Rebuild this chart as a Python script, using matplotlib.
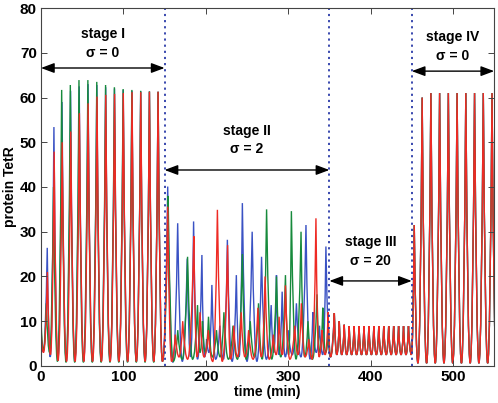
import numpy as np
import matplotlib
matplotlib.use("Agg")
import matplotlib.pyplot as plt
from matplotlib.path import Path
from matplotlib.patches import PathPatch

plt.rcParams['font.family'] = ['Liberation Sans', 'DejaVu Sans']

# ---------------- data ----------------
# Stage I (sigma = 0)
blue_I_peak_t = [7.6, 15.7, 25.5, 35.9, 46.4, 57.1, 67.8, 78.5, 89.2, 99.8, 110.4, 121.0, 131.6, 142.1]
blue_I_peak_v = [26.4, 53.4, 59.0, 61.5, 62.5, 63.0, 62.8, 62.3, 62.0, 61.7, 61.5, 61.4, 61.3, 61.3]
blue_I_trough_t = [0.0, 2.8, 11.2, 20.4, 30.7, 41.1, 51.7, 62.4, 73.1, 83.8, 94.5, 105.1, 115.7, 126.3, 136.8]
blue_I_trough_v = [6.0, 3.2, 2.0, 1.2, 1.0, 1.0, 1.0, 1.0, 1.0, 1.0, 1.0, 1.0, 1.0, 1.0, 1.0]

green_I_peak_t = [6.5, 15.2, 25.1, 35.6, 46.1, 56.9, 67.7, 78.4, 89.1, 99.7, 110.3, 121.0, 131.6, 142.1]
green_I_peak_v = [14.0, 40.0, 61.7, 62.8, 63.9, 63.9, 63.5, 62.8, 62.3, 61.9, 61.7, 61.5, 61.4, 61.3]
green_I_trough_t = [0.0, 3.0, 10.5, 20.0, 30.4, 40.9, 51.5, 62.3, 73.0, 83.7, 94.4, 105.0, 115.7, 126.3, 136.8]
green_I_trough_v = [10.5, 3.5, 3.0, 1.0, 0.8, 0.8, 0.8, 0.8, 0.8, 0.8, 0.8, 0.8, 0.8, 0.8, 0.8]

red_I_peak_t = [7.8, 16.0, 25.7, 36.1, 46.6, 57.2, 68.0, 78.6, 89.3, 99.9, 110.5, 121.1, 131.6, 142.1]
red_I_peak_v = [21.0, 47.9, 50.0, 52.4, 56.5, 58.7, 60.2, 60.6, 60.8, 61.0, 61.2, 61.2, 61.3, 61.3]
red_I_trough_t = [0.0, 3.0, 11.5, 20.7, 31.0, 41.4, 51.9, 62.6, 73.3, 84.0, 94.6, 105.2, 115.8, 126.4, 136.9]
red_I_trough_v = [8.0, 3.0, 2.5, 1.2, 1.0, 1.0, 1.0, 1.0, 1.0, 1.0, 1.0, 1.0, 1.0, 1.0, 1.0]

# Stage II (sigma = 2)
blue_II_peak_t = [153.8, 165.9, 177.5, 185.2, 195.3, 201.0, 207.4, 217.0, 226.2, 237.1, 244.4,
                  256.3, 267.7, 279.4, 285.8, 292.7, 300.0, 310.0, 321.6, 330.0, 338.0, 345.8]
blue_II_peak_v = [40.1, 31.9, 24.0, 32.3, 24.8, 6.0, 18.1, 9.0, 28.2, 20.3, 36.4,
                  30.0, 24.4, 13.6, 20.3, 16.6, 8.0, 14.0, 31.5, 12.0, 9.0, 26.7]
blue_II_trough_t = [147.4, 160.0, 171.5, 181.5, 190.0, 198.5, 204.0, 212.0, 221.5, 232.0, 240.5,
                    250.0, 262.0, 273.5, 282.5, 289.0, 296.5, 305.0, 315.5, 326.5, 334.0, 342.0, 351.0]
blue_II_trough_v = [1.0, 0.8, 1.0, 2.0, 1.5, 2.0, 3.0, 1.5, 1.5, 1.0, 2.0,
                    1.0, 1.0, 1.5, 3.0, 2.5, 2.0, 2.5, 2.0, 1.5, 3.0, 2.5, 2.0]

green_II_peak_t = [154.3, 166.0, 177.9, 190.0, 196.0, 203.3, 213.0, 222.0, 233.0, 244.4, 254.0,
                   264.0, 273.8, 285.8, 296.7, 303.9, 315.6, 324.0, 335.0, 342.0, 349.0]
green_II_peak_v = [38.0, 8.0, 24.4, 13.6, 10.0, 11.0, 8.0, 12.0, 9.0, 25.0, 10.0,
                   14.0, 35.0, 20.0, 20.3, 34.6, 30.0, 10.0, 16.0, 13.0, 8.0]
green_II_trough_t = [147.4, 160.5, 171.5, 184.0, 193.0, 199.5, 208.0, 217.5, 227.5, 238.5, 249.0,
                     259.0, 268.5, 280.0, 291.0, 300.5, 309.5, 320.0, 329.5, 338.5, 345.5, 351.5]
green_II_trough_v = [1.0, 1.0, 1.5, 1.5, 3.0, 3.0, 2.0, 2.0, 1.5, 1.5, 1.5,
                     2.0, 1.5, 1.5, 2.0, 2.5, 1.5, 2.0, 1.5, 3.0, 3.0, 2.0]

red_II_peak_t = [153.8, 163.0, 172.0, 185.5, 193.0, 203.0, 214.1, 226.5, 234.0, 243.0, 252.0,
                 263.3, 272.0, 282.0, 289.0, 296.7, 308.0, 316.0, 325.0, 333.7, 341.0, 348.5]
red_II_peak_v = [35.6, 7.0, 10.0, 29.0, 12.0, 8.0, 34.9, 27.0, 9.0, 12.0, 8.0,
                 13.0, 20.0, 7.0, 11.0, 18.0, 9.0, 14.0, 6.0, 33.0, 8.0, 12.0]
red_II_trough_t = [147.4, 158.5, 167.5, 178.0, 189.5, 198.0, 208.5, 220.0, 230.0, 238.5, 247.5,
                   257.5, 267.5, 277.0, 285.5, 293.0, 302.0, 312.0, 320.5, 329.0, 337.5, 345.0, 351.5]
red_II_trough_v = [1.0, 1.0, 2.0, 1.5, 2.0, 2.0, 1.0, 1.0, 1.5, 2.0, 2.0,
                   1.5, 2.0, 1.5, 2.5, 2.5, 1.5, 2.5, 2.0, 1.5, 2.0, 2.5, 2.0]

# Stages III (sigma = 20) and IV (sigma = 0): all cells overlap
calm_peak_t = [356, 362, 368, 374, 380, 386, 392, 398, 404, 410, 416, 422, 428, 434, 440, 446,
               453.0, 462.6, 473.2, 483.8, 494.4, 505.0, 515.6, 526.2, 536.8, 547.4]
calm_peak_v = [11.8, 10.0, 9.2, 8.9, 8.9, 8.9, 8.9, 8.9, 8.9, 8.9, 8.9, 8.9, 8.9, 8.9, 8.9, 8.9,
               31.5, 60.0, 61.0, 61.0, 61.0, 61.0, 61.0, 61.0, 61.0, 61.0]
calm_trough_t = [359, 365, 371, 377, 383, 389, 395, 401, 407, 413, 419, 425, 431, 437, 443, 449.5,
                 457.5, 468.0, 478.5, 489.1, 499.7, 510.3, 520.9, 531.5, 542.1, 552.7]
calm_trough_v = [2.5, 2.5, 2.5, 2.5, 2.5, 2.5, 2.5, 2.5, 2.5, 2.5, 2.5, 2.5, 2.5, 2.5, 2.5, 2.5,
                 0.6, 0.6, 0.6, 0.6, 0.6, 0.6, 0.6, 0.6, 0.6, 0.6]

stage_bounds = [150, 350, 450]
stage_names = ["stage I\nσ = 0", "stage II\nσ = 2", "stage III\nσ = 20", "stage IV\nσ = 0"]
stage_spans = [(0, 150), (150, 350), (350, 450), (450, 550)]
stage_arrow_y = [66.6, 43.8, 19.0, 65.9]
stage_text_y = [72.0, 50.5, 25.6, 71.5]

x_ticks = [0, 100, 200, 300, 400, 500]
y_ticks = [0, 10, 20, 30, 40, 50, 60, 70, 80]

# ---------------- build series ----------------
def series(parts):
    t = np.concatenate([np.asarray(p, float) for p in parts[0::2]])
    v = np.concatenate([np.asarray(p, float) for p in parts[1::2]])
    o = np.argsort(t, kind="stable")
    return t[o], v[o]


def spike_path(t, v, sharp=0.45):
    """Path through the read vertices; each edge drawn as a quadratic
    Bezier that leaves the lower vertex flat and rises to the higher one."""
    verts = [(t[0], v[0])]
    codes = [Path.MOVETO]
    for i in range(1, len(t)):
        t0, v0, t1, v1 = t[i - 1], v[i - 1], t[i], v[i]
        if v1 >= v0:
            ctrl = (t1 - sharp * (t1 - t0), v0)
        else:
            ctrl = (t0 + sharp * (t1 - t0), v1)
        verts += [ctrl, (t1, v1)]
        codes += [Path.CURVE3, Path.CURVE3]
    return Path(verts, codes)


blue = series([blue_I_peak_t, blue_I_peak_v, blue_I_trough_t, blue_I_trough_v,
               blue_II_peak_t, blue_II_peak_v, blue_II_trough_t, blue_II_trough_v,
               calm_peak_t, calm_peak_v, calm_trough_t, calm_trough_v])
green = series([green_I_peak_t, green_I_peak_v, green_I_trough_t, green_I_trough_v,
                green_II_peak_t, green_II_peak_v, green_II_trough_t, green_II_trough_v,
                calm_peak_t, calm_peak_v, calm_trough_t, calm_trough_v])
red = series([red_I_peak_t, red_I_peak_v, red_I_trough_t, red_I_trough_v,
              red_II_peak_t, red_II_peak_v, red_II_trough_t, red_II_trough_v,
              calm_peak_t, calm_peak_v, calm_trough_t, calm_trough_v])

# ---------------- plot ----------------
fig = plt.figure(figsize=(4.98, 4.03), dpi=100)
ax = fig.add_axes([0.0823, 0.092, 0.910, 0.888])

for (t, v), col in [(blue, '#3a52c4'), (green, '#178a3c'), (red, '#ee2a24')]:
    ax.add_patch(PathPatch(spike_path(t, v), fill=False, edgecolor=col, lw=1.0,
                           clip_on=True))

for b in stage_bounds:
    ax.axvline(b, color='#2a3aa8', ls=(0, (1.2, 2.2)), lw=1.3)

for name, (a, b), ya, yt in zip(stage_names, stage_spans, stage_arrow_y, stage_text_y):
    ax.annotate('', xy=(a, ya), xytext=(b, ya),
                arrowprops=dict(arrowstyle='<|-|>,head_length=0.8,head_width=0.3',
                                color='black', lw=1.0, shrinkA=0, shrinkB=0))
    ax.text((a + b) / 2, yt, name, ha='center', va='center', fontsize=10,
            fontweight='bold', linespacing=1.45)

ax.set_xlim(0, 550)
ax.set_ylim(0, 80)
ax.set_xticks(x_ticks)
ax.set_yticks(y_ticks)
ax.tick_params(direction='in', top=True, right=True, length=4, width=0.7,
               labelsize=11, color='#444444', pad=3)
for lab in ax.get_xticklabels() + ax.get_yticklabels():
    lab.set_fontweight('bold')
for s in ax.spines.values():
    s.set_color('#444444')
    s.set_linewidth(0.8)

ax.set_xlabel('time (min)', fontsize=10, fontweight='bold', labelpad=1)
ax.set_ylabel('protein TetR', fontsize=10, fontweight='bold', labelpad=2)

fig.savefig('out.png', dpi=100)
